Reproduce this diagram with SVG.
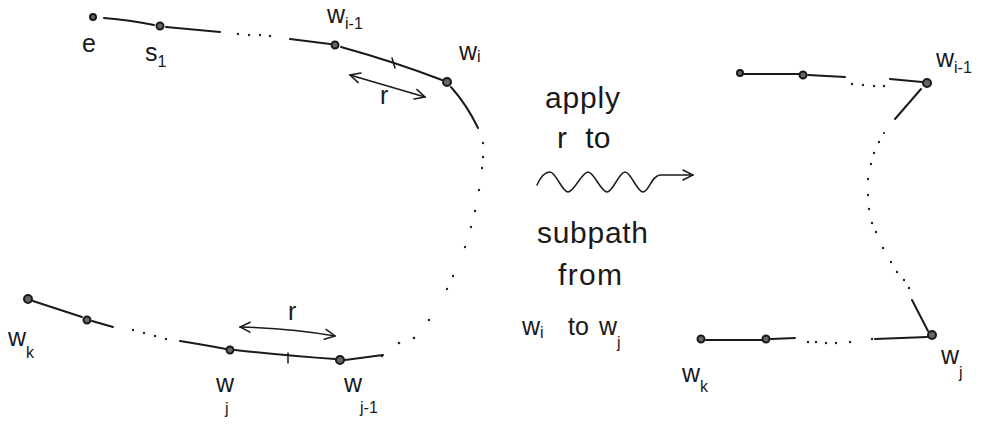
<svg xmlns="http://www.w3.org/2000/svg" width="983" height="433" viewBox="0 0 983 433">
<defs>
<style>
.ln{fill:none;stroke:#1a1a1a;stroke-width:2;stroke-linecap:round;stroke-linejoin:round}
.th{fill:none;stroke:#1a1a1a;stroke-width:1.5;stroke-linecap:round;stroke-linejoin:round}
.nd{fill:#666;stroke:#1a1a1a;stroke-width:2}
.dt{fill:#222}
text{font-family:"Liberation Sans","DejaVu Sans",sans-serif;fill:#1a1a1a}
.lb{font-size:25px}
.sb{font-size:16px}
.md{font-size:30px}
</style>
<marker id="chev" viewBox="0 0 12 12" refX="11" refY="6" markerWidth="12" markerHeight="12" markerUnits="userSpaceOnUse" orient="auto-start-reverse">
<path d="M1,1 L11,6 L1,11" fill="none" stroke="#1a1a1a" stroke-width="1.5" stroke-linecap="round"/>
</marker>
</defs>
<rect width="983" height="433" fill="#fff"/>

<g id="connectors">
<path class="ln" d="M104,18 Q130,20 154,25"/>
<path class="ln" d="M166,27 L220,32"/>
<circle class="dt" cx="238" cy="34" r="1.2"/><circle class="dt" cx="249" cy="35" r="1.2"/><circle class="dt" cx="260" cy="35" r="1.2"/><circle class="dt" cx="270" cy="36" r="1.2"/>
<path class="ln" d="M290,39 L330,44"/>
<path class="ln" d="M341,47 Q395,62 442,80"/>
<path class="th" d="M392,58 L395,68"/>
<path class="ln" d="M451,87 Q467,105 478,128"/>
<g class="dt">
<circle cx="483" cy="143" r="1.2"/><circle cx="483" cy="157" r="1.2"/><circle cx="482" cy="168" r="1.2"/><circle cx="479" cy="190" r="1.2"/><circle cx="475" cy="211" r="1.2"/><circle cx="471" cy="227" r="1.2"/><circle cx="465" cy="247" r="1.2"/><circle cx="453" cy="276" r="1.2"/><circle cx="447" cy="289" r="1.2"/><circle cx="429" cy="320" r="1.2"/><circle cx="414" cy="338" r="1.3"/><circle cx="399" cy="343" r="1.3"/><circle cx="382" cy="356" r="1.2"/>
</g>
<path class="ln" d="M33,301 L82,317"/>
<path class="ln" d="M92,321 L113,327"/>
<circle class="dt" cx="133" cy="330" r="1.2"/><circle class="dt" cx="144" cy="333" r="1.2"/><circle class="dt" cx="155" cy="336" r="1.2"/><circle class="dt" cx="166" cy="339" r="1.2"/>
<path class="ln" d="M180,341 Q205,345 226,349"/>
<path class="ln" d="M235,350 Q290,356 335,359"/>
<path class="th" d="M288,353 L288,363"/>
<path class="ln" d="M345,360 L383,355"/>
<path class="th" d="M350,75 L425,97" marker-start="url(#chev)" marker-end="url(#chev)"/>
<path class="th" d="M240,327 Q290,328 335,336" marker-start="url(#chev)" marker-end="url(#chev)"/>
<path class="th" d="M537,185 C541,176 546,172 550,172 C556,172 562,192 568,192 C574,192 582,172 588,172 C594,172 601,192 607,192 C613,192 619,172 625,172 C631,172 637,192 643,192 C649,192 651,176 660,175 L693,175" marker-end="url(#chev)"/>
<path class="ln" d="M744,74 L799,74"/>
<path class="ln" d="M808,75 L845,77"/>
<circle class="dt" cx="852" cy="84" r="1.2"/><circle class="dt" cx="863" cy="85" r="1.2"/><circle class="dt" cx="874" cy="86" r="1.2"/><circle class="dt" cx="884" cy="86" r="1.2"/>
<path class="ln" d="M890,79 L922,82"/>
<path class="ln" d="M921,89 L895,119"/>
<g class="dt">
<circle cx="884" cy="133" r="1.1"/><circle cx="879" cy="142" r="1.2"/><circle cx="874" cy="153" r="1.2"/><circle cx="871" cy="164" r="1.2"/><circle cx="868" cy="179" r="1.2"/><circle cx="868" cy="195" r="1.2"/><circle cx="869" cy="209" r="1.2"/><circle cx="872" cy="223" r="1.2"/><circle cx="876" cy="232" r="1.2"/><circle cx="883" cy="248" r="1.2"/><circle cx="891" cy="262" r="1.2"/><circle cx="897" cy="272" r="1.2"/><circle cx="904" cy="280" r="1.2"/><circle cx="909" cy="288" r="1.2"/>
</g>
<path class="ln" d="M912,300 L928,331"/>
<path class="ln" d="M875,339 L927,337"/>
<path class="ln" d="M706,340 L762,340"/>
<path class="ln" d="M771,339 L795,338"/>
<circle class="dt" cx="808" cy="342" r="1.2"/><circle class="dt" cx="816" cy="342" r="1.2"/><circle class="dt" cx="826" cy="343" r="1.2"/><circle class="dt" cx="836" cy="343" r="1.2"/><circle class="dt" cx="850" cy="342" r="1.2"/><circle class="dt" cx="872" cy="339" r="1.2"/>
</g>

<g id="node-e"><circle class="nd" cx="93" cy="17" r="3"/><text class="lb" x="82" y="52">e</text></g>
<g id="node-s1"><circle class="nd" cx="160" cy="26" r="3.5"/><text class="lb" x="145" y="61">s<tspan class="sb" dy="6">1</tspan></text></g>
<g id="node-wi-1"><circle class="nd" cx="335" cy="45" r="3.5"/><text class="lb" x="327" y="23">w<tspan class="sb" dy="6">i-1</tspan></text></g>
<g id="node-wi"><circle class="nd" cx="447" cy="82" r="4"/><text class="lb" x="459" y="60">w<tspan class="sb" dy="2">i</tspan></text></g>
<g id="label-r-top"><text class="lb" x="380" y="104">r</text></g>

<g id="node-wk"><circle class="nd" cx="28" cy="299" r="4"/><text class="lb" x="8" y="346">w<tspan class="sb" dy="12">k</tspan></text></g>
<g id="node-bl2"><circle class="nd" cx="87" cy="320" r="3.5"/></g>
<g id="node-wj"><circle class="nd" cx="230" cy="350" r="3.5"/><text class="lb" x="216" y="392">w</text><text class="sb" x="225" y="414">j</text></g>
<g id="node-wj-1"><circle class="nd" cx="340" cy="360" r="4"/><text class="lb" x="344" y="392">w</text><text class="sb" x="360" y="413">j-1</text></g>
<g id="label-r-bottom"><text class="lb" x="288" y="320">r</text></g>

<g id="center-text">
<text class="md" x="545" y="108" textLength="75">apply</text>
<text class="md" x="557" y="148" word-spacing="10">r to</text>
<text class="md" x="537" y="243" textLength="111">subpath</text>
<text class="md" x="558" y="285" textLength="64">from</text>
<text class="lb" x="522" y="335">w<tspan class="sb" dy="3">i</tspan></text>
<text class="lb" x="568" y="335">to</text>
<text class="lb" x="599" y="335">w<tspan class="sb" dy="13">j</tspan></text>
</g>

<g id="node-r1"><circle class="nd" cx="740" cy="73" r="3"/></g>
<g id="node-r2"><circle class="nd" cx="803" cy="75" r="3.5"/></g>
<g id="node-r-wi-1"><circle class="nd" cx="927" cy="83" r="4"/><text class="lb" x="936" y="67">w<tspan class="sb" dy="6">i-1</tspan></text></g>
<g id="node-r-wj"><circle class="nd" cx="932" cy="335" r="4"/><text class="lb" x="941" y="364">w<tspan class="sb" dy="14">j</tspan></text></g>
<g id="node-r-wk"><circle class="nd" cx="701" cy="339" r="3.5"/><text class="lb" x="682" y="382">w<tspan class="sb" dy="10">k</tspan></text></g>
<g id="node-r4"><circle class="nd" cx="766" cy="339" r="3.5"/></g>
</svg>
